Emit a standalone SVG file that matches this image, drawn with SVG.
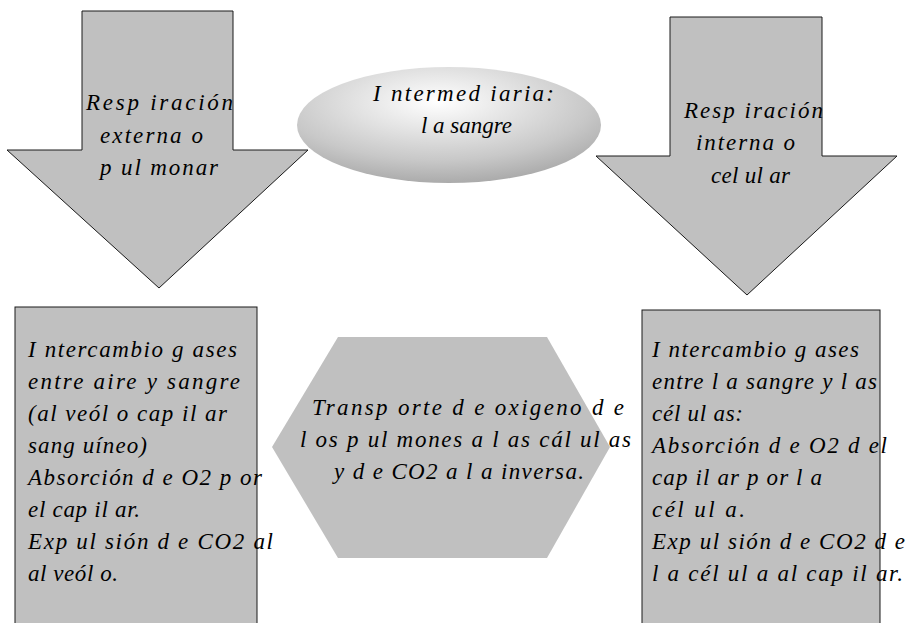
<svg xmlns="http://www.w3.org/2000/svg" width="908" height="623" viewBox="0 0 908 623">
<defs>
<radialGradient id="blob" cx="0.46" cy="0.3" r="0.72" fx="0.46" fy="0.3">
<stop offset="0" stop-color="#ffffff"/>
<stop offset="0.35" stop-color="#e4e4e4"/>
<stop offset="0.7" stop-color="#c8c8c8"/>
<stop offset="1" stop-color="#a8a8a8"/>
</radialGradient>
<style>
.shape{fill:#c0c0c0;stroke:#1a1a1a;stroke-width:1}
.hex{fill:#c0c0c0;stroke:none}
text{font-family:"Liberation Serif","DejaVu Serif",serif;font-style:italic;font-size:23px;fill:#000}
</style>
</defs>
<rect width="908" height="623" fill="#ffffff"/>

<g id="arrow-externa">
<polygon class="shape" points="82,11 233,11 233,150 308,150 159,288 7,150 82,150"/>
<text x="86" y="110" textLength="147" lengthAdjust="spacing">Resp iración</text>
<text x="100" y="143" textLength="103" lengthAdjust="spacing">externa o</text>
<text x="100" y="175" textLength="118" lengthAdjust="spacing">p ul monar</text>
</g>

<g id="intermediaria">
<ellipse cx="449" cy="125" rx="152" ry="58" fill="url(#blob)"/>
<text x="373" y="101" textLength="181" lengthAdjust="spacing">I ntermed iaria:</text>
<text x="421" y="133" textLength="91" lengthAdjust="spacing">l a sangre</text>
</g>

<g id="arrow-interna">
<polygon class="shape" points="670,17 822,17 822,156 897,156 747,295 596,156 670,156"/>
<text x="684" y="118" textLength="139" lengthAdjust="spacing">Resp iración</text>
<text x="696" y="150" textLength="99" lengthAdjust="spacing">interna o</text>
<text x="711" y="183" textLength="79" lengthAdjust="spacing">cel ul ar</text>
</g>

<g id="box-externa">
<rect class="shape" x="15" y="307" width="242" height="340"/>
<text x="28" y="357" textLength="209" lengthAdjust="spacing">I ntercambio g ases</text>
<text x="28" y="389" textLength="212" lengthAdjust="spacing">entre aire y sangre</text>
<text x="28" y="421" textLength="199" lengthAdjust="spacing">(al veól o cap il ar</text>
<text x="28" y="453" textLength="119" lengthAdjust="spacing">sang uíneo)</text>
<text x="28" y="485" textLength="234" lengthAdjust="spacing">Absorción d e O2 p or</text>
<text x="28" y="517" textLength="112" lengthAdjust="spacing">el  cap il ar.</text>
<text x="28" y="549" textLength="245" lengthAdjust="spacing">Exp ul sión d e CO2 al</text>
<text x="28" y="581" textLength="90" lengthAdjust="spacing">al veól o.</text>
</g>

<g id="transporte">
<polygon class="hex" points="338,337 547,337 610,447 547,558 338,558 272,447"/>
<text x="312" y="415" textLength="312" lengthAdjust="spacing">Transp orte d e oxigeno d e</text>
<text x="300" y="447" textLength="331" lengthAdjust="spacing">l os p ul mones a l as cál ul as</text>
<text x="334" y="479" textLength="250" lengthAdjust="spacing">y d e CO2 a l a inversa.</text>
</g>

<g id="box-interna">
<rect class="shape" x="642" y="310" width="238" height="340"/>
<text x="652" y="357" textLength="207" lengthAdjust="spacing">I ntercambio g ases</text>
<text x="652" y="389" textLength="225" lengthAdjust="spacing">entre l a sangre y l as</text>
<text x="652" y="421" textLength="91" lengthAdjust="spacing">cél ul as:</text>
<text x="652" y="453" textLength="235" lengthAdjust="spacing">Absorción d e O2 d el</text>
<text x="652" y="485" textLength="170" lengthAdjust="spacing">cap il ar p or l a</text>
<text x="652" y="517" textLength="93" lengthAdjust="spacing">cél ul a.</text>
<text x="652" y="549" textLength="253" lengthAdjust="spacing">Exp ul sión d e CO2 d e</text>
<text x="652" y="581" textLength="251" lengthAdjust="spacing">l a cél ul a al  cap il ar.</text>
</g>

<g id="connectors"></g>
</svg>
